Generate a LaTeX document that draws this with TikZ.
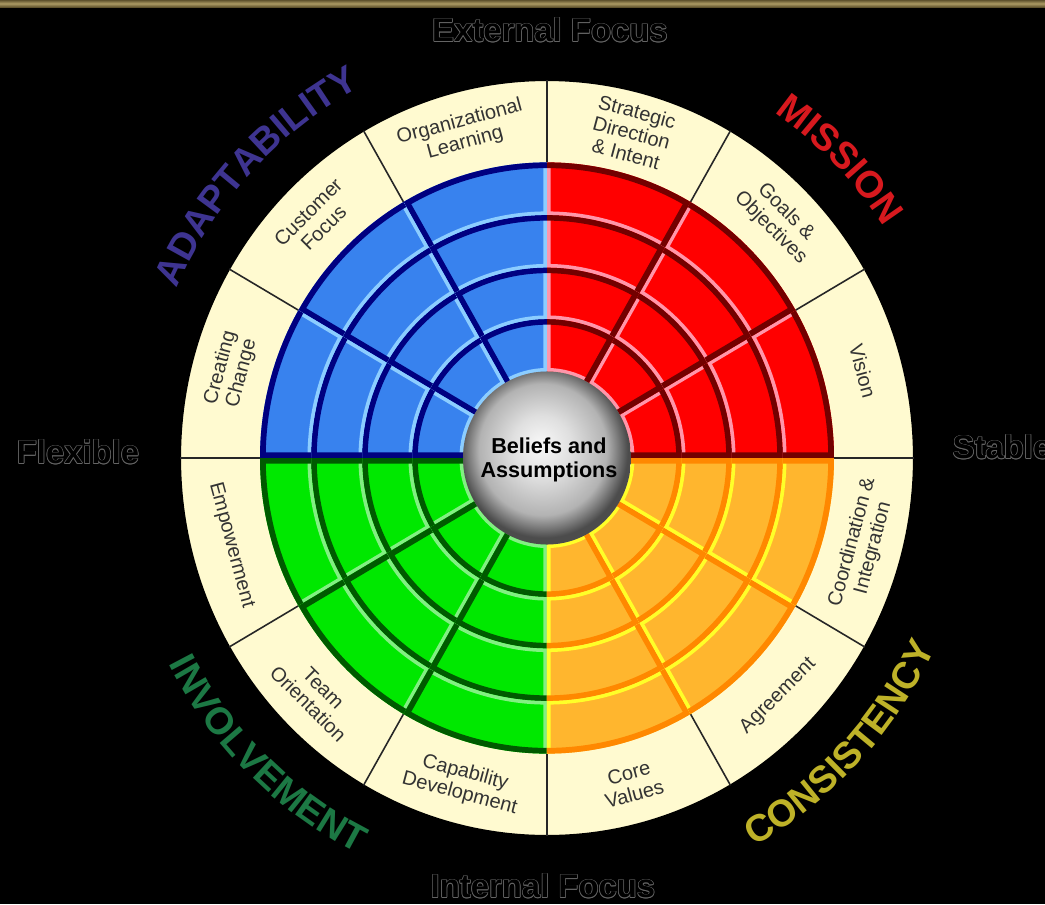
\documentclass[tikz,border=0pt]{standalone}
\usepackage{fontspec}
\setmainfont{Liberation Sans}
\usepackage{tikz}
\usetikzlibrary{decorations.text}

\definecolor{cream}{RGB}{255,250,208}
\definecolor{misfill}{RGB}{255,0,0}
\definecolor{misdark}{RGB}{115,0,0}
\definecolor{mislight}{RGB}{255,150,170}
\definecolor{adafill}{RGB}{56,130,238}
\definecolor{adadark}{RGB}{0,0,128}
\definecolor{adalight}{RGB}{140,205,255}
\definecolor{invfill}{RGB}{0,232,0}
\definecolor{invdark}{RGB}{0,90,0}
\definecolor{invlight}{RGB}{130,240,130}
\definecolor{confill}{RGB}{255,182,46}
\definecolor{condark}{RGB}{255,136,0}
\definecolor{conlight}{RGB}{255,255,40}
\definecolor{adatext}{RGB}{62,52,145}
\definecolor{mistext}{RGB}{215,25,30}
\definecolor{invtext}{RGB}{28,120,68}
\definecolor{context}{RGB}{190,178,40}
\definecolor{rimgray}{RGB}{100,100,100}
\definecolor{barhi}{RGB}{172,154,100}
\definecolor{barlo}{RGB}{95,82,45}

\pgfdeclareradialshading{sphereshade}{\pgfpoint{-2bp}{4bp}}{%
  color(0bp)=(gray!5); color(9bp)=(gray!25); color(19bp)=(gray!60);
  color(25bp)=(black!70); color(50bp)=(black!70)}

\newcommand\quadfont{\fontsize{21.5}{22}\selectfont\bfseries}

\tikzset{
focus/.style={font=\fontsize{18.7}{20}\selectfont\bfseries, inner sep=0pt},
outlined/.pic={
  \foreach \dx/\dy [count=\i] in {-.4/0,.4/0,0/-.4,0/.4,-.28/-.28,.28/.28,-.28/.28,.28/-.28}
    \node[focus, text=rimgray] (-o\i) at (\dx pt,\dy pt) {#1};
  \node[focus, text=black] (-txt) at (0,0) {#1};
  },
cell/.style={
  font=\fontsize{11.4}{12.4}\selectfont,
  text=black!80,
  align=center,
  inner sep=0pt
  },
core/.style={font=\fontsize{12.3}{14}\selectfont\bfseries, align=center, inner sep=0pt},
divider/.style={black!85, line width=0.9pt},
quadlabel/.style 2 args={
  decorate,
  decoration={text along path, text align=center, text color=#1, text={|\quadfont|#2}}
  }
}

\begin{document}
\begin{tikzpicture}[x=0.02cm, y=0.02cm]
% frame
\clip (-547,-446) rectangle (498,458);
\fill[black] (-547,-446) rectangle (498,458);
\shade[top color=barlo, bottom color=barlo, middle color=barhi] (-547,451) rectangle (498,458);

% the wheel
\begin{scope}[yscale=1.03]
\filldraw[fill=cream, draw=black, line width=1.2pt] (0,0) circle[radius=367];
\foreach \a in {0,30,...,330}
  \draw[divider] (\a:287) -- (\a:367);

% the tiles
\foreach \q/\fc/\dc/\lc/\sw in {0/misfill/misdark/mislight/0, 1/adafill/adadark/adalight/1,
                                2/invfill/invdark/invlight/0, 3/confill/condark/conlight/1}{
  \foreach \ri/\ro in {84/135,135/185,185/236,236/287}{
    \foreach \k in {0,1,2}{
      \pgfmathsetmacro\aa{90*\q+30*\k}
      \pgfmathsetmacro\ab{\aa+30}
      \ifnum\sw=0 \let\ad\aa \let\al\ab \else \let\ad\ab \let\al\aa \fi
      \begin{scope}
        \clip (\aa:\ri) -- (\aa:\ro) arc[start angle=\aa, end angle=\ab, radius=\ro]
          -- (\ab:\ri) arc[start angle=\ab, end angle=\aa, radius=\ri] -- cycle;
        \fill[\fc] (0,0) circle[radius=300];
        \draw[\lc, line width=4pt] (\aa:\ri) arc[start angle=\aa, end angle=\ab, radius=\ri]
          (\al:60) -- (\al:320);
        \draw[\dc, line width=6.5pt] (\aa:\ro) arc[start angle=\aa, end angle=\ab, radius=\ro]
          (\ad:60) -- (\ad:320);
      \end{scope}
    }
  }
}

% the core
\shade[shading=sphereshade] (0,0) circle[radius=84];
\node[core] (core) at (2,-2) {Beliefs and\\Assumptions};

% the ring labels
\foreach \ang/\rot/\txt in {105/15/{Organizational\\Learning}, 75/-15/{Strategic\\Direction\\\& Intent},
    45/-45/{Goals \&\\Objectives}, 15/-75/Vision, 345/75/{Coordination \&\\Integration},
    315/45/Agreement, 285/15/{Core\\Values}, 255/-15/{Capability\\Development},
    225/-45/{Team\\Orientation}, 195/-75/Empowerment, 165/75/{Creating\\Change},
    135/45/{Customer\\Focus}}
  \node[cell, rotate=\rot] (cell\ang) at (\ang:327) {\txt};

% the quadrant names
\path[quadlabel={adatext}{ADAPTABILITY}] (171.5:405) arc[start angle=171.5, end angle=101.5, radius=405];
\path[quadlabel={mistext}{MISSION}] (80:405) arc[start angle=80, end angle=10, radius=405];
\path[quadlabel={invtext}{INVOLVEMENT}] (191:428) arc[start angle=191, end angle=261, radius=428];
\path[quadlabel={context}{CONSISTENCY}] (281.5:430) arc[start angle=281.5, end angle=351.5, radius=430];
\end{scope}

% the axes
\pic (ext) at (3,428) {outlined=External Focus};
\pic (int) at (-4,-428) {outlined=Internal Focus};
\pic (flex) at (-469,6) {outlined=Flexible};
\pic (stab) at (455,11) {outlined=Stable};
\end{tikzpicture}
\end{document}
